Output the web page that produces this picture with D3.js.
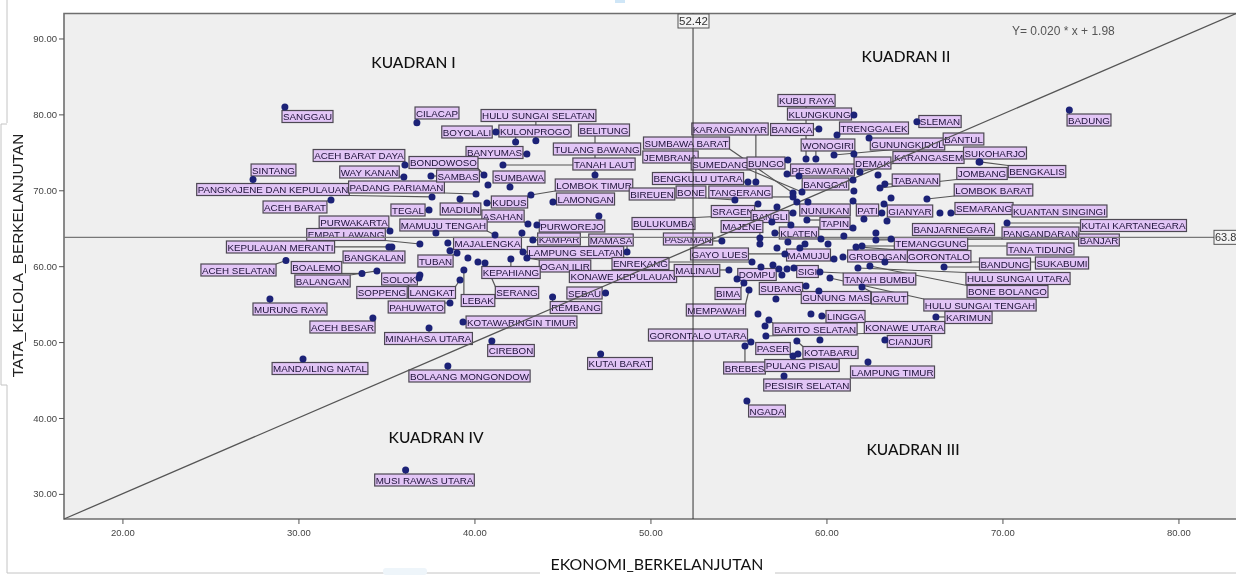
<!DOCTYPE html>
<html>
<head>
<meta charset="utf-8">
<script src="https://cdn.jsdelivr.net/npm/d3@7"></script>
<style>
  html, body { margin: 0; padding: 0; background: #fff; overflow: hidden; }
  svg { display: block; font-family: "Liberation Sans", Arial, sans-serif; filter: blur(0.4px); }
  .axis text { font-size: 9.5px; fill: #444; }
  .axis path, .axis line { stroke: #555; }
  .quad { font-family: Lato, sans-serif; font-size: 15.5px; font-weight: 500; fill: #111; text-anchor: middle; }
  .lbl text { font-size: 9.8px; fill: #1d1238; text-anchor: middle; }
  .lbl rect { fill: #e2c5f6; stroke: #4d4853; stroke-width: 1.2; }
</style>
</head>
<body>
<svg width="1236" height="575"></svg>
<script>
var names = [
  "SANGGAU", "SINTANG", "ACEH BARAT DAYA", "WAY KANAN", "PANGKAJENE DAN KEPULAUAN",
  "PADANG PARIAMAN", "ACEH BARAT", "PURWAKARTA", "EMPAT LAWANG", "KEPULAUAN MERANTI",
  "BANGKALAN", "ACEH SELATAN", "BOALEMO", "BALANGAN", "SOLOK",
  "SOPPENG", "LANGKAT", "PAHUWATO", "MURUNG RAYA", "ACEH BESAR",
  "MINAHASA UTARA", "MANDAILING NATAL", "BOLAANG MONGONDOW", "MUSI RAWAS UTARA", "CILACAP",
  "HULU SUNGAI SELATAN", "BOYOLALI", "KULONPROGO", "BELITUNG", "BANYUMAS",
  "BONDOWOSO", "TULANG BAWANG", "TANAH LAUT", "SAMBAS", "SUMBAWA",
  "KUDUS", "TEGAL", "MADIUN", "ASAHAN", "LAMONGAN",
  "LOMBOK TIMUR", "BIREUEN", "PURWOREJO", "MAMUJU TENGAH", "MAJALENGKA",
  "KAMPAR", "MAMASA", "PASAMAN", "BULUKUMBA", "LAMPUNG SELATAN",
  "OGAN ILIR", "ENREKANG", "KONAWE KEPULAUAN", "TUBAN", "KEPAHIANG",
  "SERANG", "LEBAK", "SEBAU", "REMBANG", "KOTAWARINGIN TIMUR",
  "CIREBON", "KUTAI BARAT", "GORONTALO UTARA", "KUBU RAYA", "KLUNGKUNG",
  "SLEMAN", "TRENGGALEK", "BANGKA", "KARANGANYAR", "SUMBAWA BARAT",
  "JEMBRANA", "SUMEDANG", "BUNGO", "PESAWARAN", "WONOGIRI",
  "GUNUNGKIDUL", "BANTUL", "KARANGASEM", "SUKOHARJO", "BENGKALIS",
  "DEMAK", "TABANAN", "JOMBANG", "LOMBOK BARAT", "BANGGAI",
  "BENGKULU UTARA", "BONE", "TANGERANG", "SRAGEN", "BANGLI",
  "NUNUKAN", "PATI", "GIANYAR", "TAPIN", "MAJENE",
  "KLATEN", "BANJARNEGARA", "SEMARANG", "KUANTAN SINGINGI", "KUTAI KARTANEGARA",
  "PANGANDARAN", "BANJAR", "TEMANGGUNG", "TANA TIDUNG", "GORONTALO",
  "GROBOGAN", "BANDUNG", "SUKABUMI", "HULU SUNGAI UTARA", "BONE BOLANGO",
  "HULU SUNGAI TENGAH", "KARIMUN", "KONAWE UTARA", "CIANJUR", "LAMPUNG TIMUR",
  "LINGGA", "BARITO SELATAN", "KOTABARU", "PASER", "BREBES",
  "PULANG PISAU", "PESISIR SELATAN", "NGADA", "MEMPAWAH", "BIMA",
  "DOMPU", "SUBANG", "GUNUNG MAS", "GARUT", "TANAH BUMBU",
  "SIGI", "MAMUJU", "MALINAU", "GAYO LUES", "BADUNG"
];

var ekonomi = [
  29.23, 27.42, 36.05, 35.99, 37.59,
  40.09, 31.85, 35.20, 36.90, 35.14,
  35.31, 29.29, 33.61, 34.46, 36.90,
  36.85, 39.18, 38.61, 28.38, 34.23,
  37.42, 30.26, 38.49, 36.09, 36.73,
  43.49, 41.22, 42.34, 46.85, 42.98,
  40.54, 47.07, 41.62, 37.53, 42.02,
  40.71, 37.42, 39.18, 43.04, 44.46,
  43.21, 40.77, 43.55, 41.17, 42.70,
  43.32, 48.67, 54.06, 58.10, 42.76,
  42.98, 55.77, 37.81, 39.01, 42.07,
  40.60, 39.40, 47.45, 44.44, 39.35,
  40.99, 47.17, 55.71, 58.84, 61.56,
  65.14, 60.60, 59.57, 55.99, 58.10,
  56.90, 58.61, 57.81, 57.76, 59.40,
  62.42, 60.43, 61.90, 68.67, 68.72,
  61.56, 63.32, 63.04, 65.71, 61.51,
  55.54, 54.80, 58.10, 56.11, 57.19,
  58.32, 61.51, 63.27, 58.89, 56.22,
  57.07, 62.81, 67.07, 66.45, 70.26,
  62.81, 59.69, 63.67, 62.02, 61.68,
  60.94, 66.68, 63.32, 61.79, 62.47,
  60.20, 66.22, 56.56, 63.32, 62.36,
  59.74, 56.73, 58.32, 56.51, 55.37,
  58.10, 57.59, 55.48, 55.60, 55.31,
  54.92, 58.84, 59.57, 62.02, 59.63,
  58.15, 58.49, 54.46, 57.64, 73.80
];

var tataKelola = [
  80.97, 71.42, 73.33, 71.75, 69.12,
  69.51, 68.72, 64.64, 62.92, 62.53,
  62.53, 60.75, 59.04, 59.37, 58.84,
  58.44, 58.18, 55.15, 55.68, 53.17,
  51.86, 47.77, 46.85, 33.15, 78.90,
  76.53, 77.68, 76.36, 72.01, 74.78,
  72.01, 66.61, 73.33, 71.88, 70.43,
  68.32, 67.40, 68.85, 65.56, 68.46,
  69.38, 70.70, 65.43, 64.11, 64.37,
  63.45, 61.87, 63.32, 67.01, 61.87,
  61.08, 60.55, 64.37, 61.74, 60.95,
  60.42, 59.50, 56.47, 55.94, 52.65,
  50.14, 48.43, 50.01, 74.12, 79.92,
  79.04, 77.28, 78.07, 71.09, 69.64,
  65.82, 69.77, 73.99, 72.15, 74.12,
  76.89, 74.65, 72.41, 73.73, 73.73,
  74.78, 70.83, 70.30, 68.85, 71.35,
  71.09, 68.72, 69.12, 68.19, 67.80,
  68.46, 68.59, 68.19, 66.08, 63.71,
  64.37, 64.37, 67.01, 67.01, 65.69,
  63.45, 63.58, 63.58, 62.66, 62.53,
  61.21, 59.89, 60.55, 59.76, 60.02,
  58.44, 53.31, 50.80, 50.27, 47.38,
  53.44, 52.91, 50.14, 52.12, 49.48,
  48.17, 45.53, 42.24, 56.86, 57.78,
  58.31, 57.39, 56.73, 57.26, 59.23,
  59.76, 62.40, 59.50, 61.61, 80.58
];

// points whose label is hidden under the other boxes
var extraEkonomi = [38.49, 38.61, 39.63, 40.20, 57.98, 58.44, 58.95, 61.56, 62.93, 63.67, 63.15, 62.13, 63.44, 61.51,
  56.22, 57.81, 58.78, 60.09, 60.99, 57.19, 60.43, 56.28, 56.96, 57.30, 57.76, 57.47, 57.13, 56.11, 59.12, 59.63, 58.38];
var extraTataKelola = [63.06, 62.04, 61.08, 60.55, 65.43, 71.88, 68.46, 69.91, 72.01, 68.98, 67.01, 66.22, 65.95, 65.03,
  62.92, 63.19, 62.92, 62.92, 63.98, 62.40, 60.95, 59.89, 60.16, 59.63, 59.63, 58.84, 55.68, 53.70, 53.70, 50.27, 48.43];

// no visible leader line in the picture
var noLeader = ["TULANG BAWANG", "BIREUEN", "KONAWE KEPULAUAN", "JEMBRANA", "KUANTAN SINGINGI", "PASER", "GROBOGAN", "BANJARNEGARA"];

var xTicks = [20, 30, 40, 50, 60, 70, 80],
  yTicks = [30, 40, 50, 60, 70, 80, 90],
  xMean = 52.42,
  yMean = 63.8,
  xExtent = [16.68, 83.27],
  yExtent = [26.69, 93.29];

// label box centres, pixels, same order as names
var labelPos = [
  [307.5,116.5],[273.5,170],[359,155.5],[369.5,172],[273,189.5],
  [396.5,187],[295,207],[354,222],[346,234.5],[280.5,247],
  [374,257],[238.5,270],[316.5,267.5],[322.5,281],[399.5,279],
  [382,292.5],[432,292.5],[416.5,307],[290,309],[342.5,327],
  [428.5,338.5],[320,368.5],[469.5,376],[424.5,480],[437,113],
  [538.5,115.5],[467,132],[535,131],[604,130],[494.5,152.5],
  [443.5,162.5],[597,149],[604,164],[458,176],[519,177],
  [509.5,202],[408,210],[460.5,209],[503,216],[585.5,199],
  [594,185],[652,194],[572,226],[443.5,225],[487.5,243.5],
  [559,239],[611,240],[688,239],[663.5,223.5],[575.5,252.5],
  [565,266],[640.5,263.5],[623,276.5],[435.5,261],[511,272.5],
  [517,292.5],[478,300.5],[584.5,293],[576,307.5],[521.5,322],
  [511,350.5],[620,363.5],[698,335],[806.5,100.5],[819.5,114],
  [940,121.5],[874,128],[792,129.5],[730,129],[686.5,143],
  [670.5,157],[720.5,164],[766,163],[822.5,170],[828,145],
  [907.5,144],[963.5,139],[928.5,157.5],[995,153],[1037,171.5],
  [872.5,163],[916,180],[982,173.5],[993.5,190],[825.5,184],
  [698,178.5],[691,192],[740.5,192],[733,211.5],[770,216.5],
  [825,210],[867.5,210],[910,211],[835,223.5],[742,226.5],
  [799,233],[953.5,229.5],[984,208.5],[1059.5,211],[1133.5,225.5],
  [1040.5,233],[1099,240],[931,243.5],[1040.5,249],[939,256.5],
  [877.5,256],[1005,264],[1062,263],[1018,278.5],[1007.5,291.5],
  [980,305],[968.5,317.5],[904.5,327.5],[909.5,341.5],[892.5,372],
  [845.5,316.5],[815,329],[830.5,352.5],[773,348.5],[744.5,368],
  [802,365.5],[807,385],[767,411],[716,310],[728,293.5],
  [757,274.5],[781,288.5],[836,297.5],[889.5,298],[879.5,279],
  [807.5,271.5],[808.5,255],[697,270.5],[719.5,254],[1089,120]
];

var svg = d3.select("svg"),
  left = 64, right = 1236, top_ = 13.5, bottom = 519;

var x = d3.scaleLinear().domain(xExtent).range([left, right]),
  y = d3.scaleLinear().domain(yExtent).range([bottom, top_]);

// screenshot frame bits left around the chart
var frame = [[7,0,7,123],[1,124,7,124],[1,124,1,385],[1,385,7,385],[7,385,7,573],[7,573,540,573],[775,573,1236,573]];
svg.selectAll(".frame").data(frame).enter().append("line")
  .attr("x1", d => d[0]).attr("y1", d => d[1]).attr("x2", d => d[2]).attr("y2", d => d[3])
  .attr("stroke", "#c4c4c4").attr("stroke-width", 1);
svg.append("rect").attr("x", 383).attr("y", 568).attr("width", 44).attr("height", 7).attr("rx", 3).attr("fill", "#eef5fa");
svg.append("rect").attr("x", 615).attr("y", 0).attr("width", 10).attr("height", 3).attr("fill", "#cfe6f7");

svg.append("rect")
  .attr("x", left).attr("y", top_)
  .attr("width", right - left).attr("height", bottom - top_)
  .attr("fill", "#efefef");

svg.append("path")
  .attr("d", "M" + right + "," + top_ + "H" + left + "V" + bottom + "H" + right)
  .attr("fill", "none").attr("stroke", "#6e6e6e").attr("stroke-width", 1.6);

svg.append("g")
  .attr("class", "axis")
  .attr("transform", "translate(0," + bottom + ")")
  .call(d3.axisBottom(x).tickValues(xTicks).tickFormat(d3.format(".2f")).tickSize(5).tickPadding(5))
  .call(g => g.select(".domain").remove());

svg.append("g")
  .attr("class", "axis")
  .attr("transform", "translate(" + left + ",0)")
  .call(d3.axisLeft(y).tickValues(yTicks).tickFormat(d3.format(".2f")).tickSize(5).tickPadding(2))
  .call(g => g.select(".domain").remove());

var points = names.map((name, i) => ({name: name, x: ekonomi[i], y: tataKelola[i], pos: labelPos[i]}));

// labels first so their widths are known for the leader lines
var leaders = svg.append("g");
var labels = svg.append("g").selectAll(".lbl").data(points).enter().append("g").attr("class", "lbl");
labels.append("rect");
labels.append("text")
  .attr("x", d => d.pos[0])
  .attr("y", d => d.pos[1] + 3.5)
  .text(d => d.name)
  .each(function(d) { d.w = this.getComputedTextLength() + 2; });
labels.select("rect")
  .attr("x", d => d.pos[0] - d.w / 2)
  .attr("y", d => d.pos[1] - 6)
  .attr("width", d => d.w)
  .attr("height", 12);

leaders.selectAll("line")
  .data(points.filter(d => noLeader.indexOf(d.name) < 0))
  .enter().append("line")
  .attr("x1", d => x(d.x))
  .attr("y1", d => y(d.y))
  .attr("x2", d => Math.max(d.pos[0] - d.w / 2, Math.min(x(d.x), d.pos[0] + d.w / 2)))
  .attr("y2", d => Math.max(d.pos[1] - 6, Math.min(y(d.y), d.pos[1] + 6)))
  .attr("stroke", "#555").attr("stroke-width", 1.2);

// regression line and the two mean lines sit over the labels
svg.append("line")
  .attr("x1", x(xExtent[0])).attr("y1", y(yExtent[0]))
  .attr("x2", x(xExtent[1])).attr("y2", y(yExtent[1]))
  .attr("stroke", "#555").attr("stroke-width", 1.3);
svg.append("line")
  .attr("x1", x(xMean)).attr("y1", top_).attr("x2", x(xMean)).attr("y2", bottom)
  .attr("stroke", "#333").attr("stroke-width", 1);
svg.append("line")
  .attr("x1", left).attr("y1", y(yMean)).attr("x2", right).attr("y2", y(yMean))
  .attr("stroke", "#777").attr("stroke-width", 1.4);

svg.selectAll(".dot")
  .data(points.concat(extraEkonomi.map((v, i) => ({x: v, y: extraTataKelola[i]}))))
  .enter().append("circle")
  .attr("cx", d => x(d.x))
  .attr("cy", d => y(d.y))
  .attr("r", 3.5)
  .attr("fill", "#1c2277");

// mean value boxes
function valueBox(boxLeft, cy, w, size, txt) {
  svg.append("rect").attr("x", boxLeft).attr("y", cy - 7).attr("width", w).attr("height", 14)
    .attr("fill", "#f4f4f4").attr("stroke", "#555");
  svg.append("text").attr("x", boxLeft + 1).attr("y", cy + 4)
    .style("font-size", size + "px").style("fill", "#333").text(txt);
}
valueBox(678, 21, 31, 11.5, xMean.toFixed(2));
valueBox(1214, y(yMean), 28, 11, yMean.toFixed(1));

svg.append("text").attr("class", "quad").attr("x", 413.5).attr("y", 68).text("KUADRAN I");
svg.append("text").attr("class", "quad").attr("x", 906).attr("y", 62).text("KUADRAN II");
svg.append("text").attr("class", "quad").attr("x", 913).attr("y", 455).text("KUADRAN III");
svg.append("text").attr("class", "quad").attr("x", 436).attr("y", 443).text("KUADRAN IV");

svg.append("text")
  .attr("x", 1012).attr("y", 35)
  .style("font-size", "12px").style("fill", "#555")
  .text("Y= 0.020 * x + 1.98");

svg.append("text")
  .attr("x", 657).attr("y", 570)
  .attr("text-anchor", "middle")
  .style("font-family", "Lato, sans-serif").style("font-size", "15.9px").style("fill", "#111")
  .text("EKONOMI_BERKELANJUTAN");

svg.append("text")
  .attr("transform", "translate(23,255.5) rotate(-90)")
  .attr("text-anchor", "middle")
  .style("font-size", "15.4px").style("fill", "#222")
  .text("TATA_KELOLA_BERKELANJUTAN");
</script>
</body>
</html>
